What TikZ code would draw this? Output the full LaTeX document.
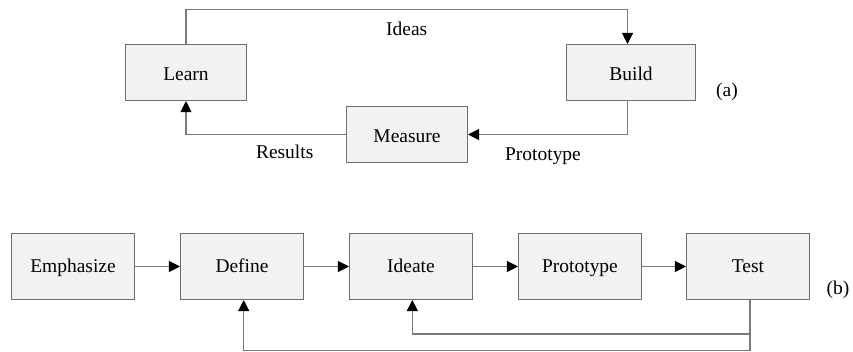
\documentclass[tikz,border=0pt]{standalone}
\usepackage{fontspec}
\setmainfont{Liberation Serif}
\usetikzlibrary{arrows.meta}
\definecolor{boxfill}{HTML}{F2F2F2}
\definecolor{boxline}{HTML}{6E6E6E}
\definecolor{wire}{HTML}{7A7A7A}
\tikzset{
  textsize/.style={font=\fontsize{14.6pt}{17pt}\selectfont},
  stage/.style={textsize, draw=boxline, fill=boxfill, line width=0.8pt,
                inner sep=0pt, minimum height=42pt,
                text height=13.7pt, text depth=1pt},
  wide/.style={stage, minimum width=92.25pt, minimum height=49.5pt,
               text height=10.7pt, text depth=1pt},
  flow/.style={draw=wire, line width=0.8pt,
               -{Triangle[length=8.3pt,width=8.3pt,color=black]}},
  lbl/.style={textsize, inner sep=0pt, text height=10.7pt, text depth=1pt},
}
\begin{document}
\begin{tikzpicture}[x=0.75pt, y=-0.75pt]
\useasboundingbox (0,0) rectangle (853,352);

% (a) build-measure-learn loop
\node[stage, minimum width=90.75pt] (learn) at (186,72.5) {Learn};
\node[stage, minimum width=96.75pt] (build) at (631,72.5) {Build};
\node[stage, minimum width=90.75pt] (measure) at (407,134.5) {Measure};

\draw[flow] (learn.north) -- ++(0,-34) -| ([xshift=-2.6pt]build.north);
\draw[flow] ([xshift=-2.6pt]build.south) |- (measure.east);
\draw[flow] (measure.west) -| (learn.south);

\node[lbl] (ideas) at (406.7,28.8) {Ideas};
\node[lbl] (proto-a) at (543,154) {Prototype};
\node[lbl] (results) at (284.7,151.7) {Results};
\node[lbl] (tag-a) at (727,90) {(a)};

% (b) design thinking pipeline
\node[wide] (emph) at (73,266.5) {Emphasize};
\node[wide] (define) at (242,266.5) {Define};
\node[wide] (ideate) at (411,266.5) {Ideate};
\node[wide] (proto) at (580,266.5) {Prototype};
\node[wide] (test) at (748,266.5) {Test};

\draw[flow] (emph) -- (define);
\draw[flow] (define) -- (ideate);
\draw[flow] (ideate) -- (proto);
\draw[flow] (proto) -- (test);
\draw[flow] ([xshift=1.5pt]test.south) -- ++(0,34) -| ([xshift=1pt]ideate.south);
\draw[flow] ([xshift=1.5pt]test.south) -- ++(0,50.5) -| ([xshift=1.3pt]define.south);

\node[lbl] (tag-b) at (838,288) {(b)};
\end{tikzpicture}
\end{document}
